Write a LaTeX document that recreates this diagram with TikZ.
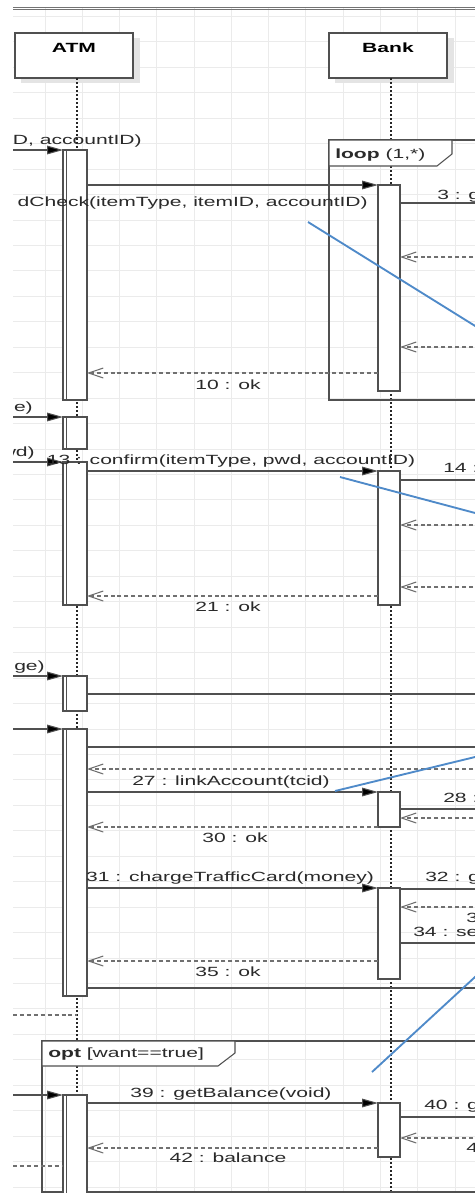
\documentclass[tikz,border=0pt]{standalone}
\usepackage{fontspec}
\setmainfont{Liberation Sans}[FakeStretch=1.58]
\usetikzlibrary{arrows.meta,calc}
\definecolor{gridc}{HTML}{EBEBEB}
\definecolor{linec}{HTML}{505050}
\definecolor{dashc}{HTML}{707070}
\definecolor{txtc}{HTML}{2A2A2A}
\definecolor{bluel}{HTML}{4F8AC9}
\definecolor{shadc}{HTML}{E4E4E4}
\newcommand\actA[3]{\node[act, minimum width=18pt, minimum height={(#3-#2)*0.75pt}, anchor=north west] (#1) at (63,#2) {};
  \draw[actline] ([xshift=2.4pt]#1.north west) -- ([xshift=2.4pt]#1.south west);}
\newcommand\actB[3]{\node[act, minimum width=16.5pt, minimum height={(#3-#2)*0.75pt}, anchor=north west] (#1) at (378,#2) {};}
\begin{document}
\begin{tikzpicture}[x=0.75pt,y=-0.75pt,
  gridline/.style={draw=gridc, line width=0.7pt},
  msg/.style={draw=linec, line width=0.8pt, -{Triangle[length=12pt,width=6.5pt,fill=black]}},
  ret/.style={draw=dashc, line width=0.8pt, dash pattern=on 3pt off 2.2pt, -{Straight Barb[length=11pt,width=7.5pt]}},
  retplain/.style={draw=dashc, line width=0.8pt, dash pattern=on 3pt off 2.2pt},
  plain/.style={draw=linec, line width=0.8pt},
  life/.style={draw=black!85, line width=1.3pt, dash pattern=on 1.2pt off 1.8pt},
  act/.style={draw=linec, fill=white, line width=0.8pt, inner sep=0pt, outer sep=0pt},
  actline/.style={draw=linec, line width=0.7pt},
  head/.style={draw=linec, fill=white, line width=0.8pt, inner sep=0pt, outer sep=0pt, minimum width=88.5pt, minimum height=33.75pt},
  frame/.style={draw=linec, line width=0.8pt},
  lbl/.style={text=txtc, inner sep=0pt, font=\fontsize{10}{12}\selectfont, anchor=base},
  lblw/.style={lbl, anchor=base west},
  lble/.style={lbl, anchor=base east},
  headtxt/.style={lbl, font=\fontsize{10}{12}\selectfont\bfseries, text=black},
  blue/.style={draw=bluel, line width=1.4pt}]
\useasboundingbox (0,0) rectangle (475,1193);
\fill[white] (0,0) rectangle (475,1193);
\begin{scope}
\clip (13,0) rectangle (475,1193);
% grid
\foreach \k in {0,...,11} \draw[gridline] ({45+37.27*\k},0) -- ({45+37.27*\k},1193);
\foreach \k in {0,...,46} \draw[gridline] (13,{16.4+25.45*\k}) -- (475,{16.4+25.45*\k});
\fill[white] (13,0) rectangle (475,7);
% top border
\draw[draw=black!55, line width=0.6pt] (13,7.2) -- (475,7.2);
\draw[draw=black!55, line width=0.6pt] (13,9.6) -- (475,9.6);
% headers
\fill[shadc] (21,38) rectangle (140,83);
\fill[shadc] (335,38) rectangle (454,83);
\node[head] (atm) at (74,55.5) {};
\node[head] (bank) at (388,55.5) {};
\node[headtxt] (atmt) at (74,52.5) {ATM};
\node[headtxt] (bankt) at (388,52.5) {Bank};
% lifelines
\coordinate (atmEnd) at (77,1193);
\coordinate (bankEnd) at (390.7,1193);
\draw[life] (atm.south -| atmEnd) -- (atmEnd);
\draw[life] (bank.south -| bankEnd) -- (bankEnd);
% loop frame
\draw[frame] (480,140) -- (329,140) -- (329,400) -- (480,400);
\filldraw[frame, fill=white] (329,140) -- (452,140) -- (452,154) -- (437,166) -- (329,166) -- cycle;
\node[lblw] (loopt) at (335,158.5) {\textbf{loop} (1,*)};
% opt frame
\draw[frame] (480,1041) -- (42,1041) -- (42,1192) -- (480,1192);
\filldraw[frame, fill=white] (42,1041) -- (235,1041) -- (235,1053) -- (218,1066) -- (42,1066) -- cycle;
\node[lblw] (optt) at (48,1057.5) {\textbf{opt} [want==true]};
% activation boxes
\actA{A1}{150}{400}
\actA{A2}{417}{449}
\actA{A3}{462}{605}
\actA{A4}{676}{711}
\actA{A5}{729}{996}
\actA{A6}{1095}{1200}
\actB{B1}{185}{391}
\actB{B2}{471}{605}
\actB{B3}{792}{827}
\actB{B4}{888}{979}
\actB{B5}{1103}{1157}
% incoming from left
\coordinate (L1) at (13,150);
\coordinate (L2) at (13,417);
\coordinate (L3) at (13,462);
\coordinate (L4) at (13,676);
\coordinate (L5) at (13,729);
\coordinate (L6) at (13,1095);
\draw[msg] (L1) -- (A1.north west);
\draw[msg] (L2) -- (A2.north west);
\draw[msg] (L3) -- (A3.north west);
\draw[msg] (L4) -- (A4.north west);
\draw[msg] (L5) -- (A5.north west);
\draw[msg] (L6) -- (A6.north west);
\node[lble] (t1) at (142,144.5) {D, accountID)};
\node[lble] (t11) at (33,411.5) {e)};
\node[lble] (t12) at (35,456.5) {wd)};
\node[lble] (t23) at (45,670.5) {nge)};
% ATM -> Bank
\draw[msg] (A1.east |- B1.north) -- (B1.north west);
\draw[msg] (A3.east |- B2.north) -- (B2.north west);
\draw[msg] (A5.east |- B3.north) -- (B3.north west);
\draw[msg] (A5.east |- B4.north) -- (B4.north west);
\draw[msg] (A6.east |- B5.north) -- (B5.north west);
\node[lble] (t2) at (368,206.5) {dCheck(itemType, itemID, accountID)};
\node[lbl] (t13) at (231,464.5) {13 : confirm(itemType, pwd, accountID)};
\node[lbl] (t27) at (231,785.5) {27 : linkAccount(tcid)};
\node[lbl] (t31) at (230,881.5) {31 : chargeTrafficCard(money)};
\node[lbl] (t39) at (231,1097.5) {39 : getBalance(void)};
% Bank -> ATM returns
\draw[ret] ($(B1.south west)+(0,-18)$) coordinate (r10) -- (r10 -| A1.east);
\draw[ret] ($(B2.south west)+(0,-9)$) coordinate (r21) -- (r21 -| A3.east);
\draw[ret] (B3.south west) coordinate (r30) -- (r30 -| A5.east);
\draw[ret] ($(B4.south west)+(0,-18)$) coordinate (r35) -- (r35 -| A5.east);
\draw[ret] ($(B5.south west)+(0,-9)$) coordinate (r42) -- (r42 -| A6.east);
\node[lbl] (t10) at (228,389.5) {10 : ok};
\node[lbl] (t21) at (228,611.5) {21 : ok};
\node[lbl] (t30) at (235,842.5) {30 : ok};
\node[lbl] (t35) at (228,976.5) {35 : ok};
\node[lbl] (t42) at (228,1162.5) {42 : balance};
% Bank -> right
\coordinate (S1) at (480,203);
\coordinate (S2) at (480,480);
\coordinate (S3) at (480,809);
\coordinate (S4) at (480,889);
\coordinate (S5) at (480,943);
\coordinate (S6) at (480,1117);
\draw[plain] (B1.east |- S1) -- (S1);
\draw[plain] (B2.east |- S2) -- (S2);
\draw[plain] (B3.east |- S3) -- (S3);
\draw[plain] (B4.east |- S4) -- (S4);
\draw[plain] (B4.east |- S5) -- (S5);
\draw[plain] (B5.east |- S6) -- (S6);
\node[lblw] (t3) at (437,199.5) {3 : g};
\node[lblw] (t14) at (443,472.5) {14 :};
\node[lblw] (t28) at (443,802.5) {28 :};
\node[lblw] (t32) at (425,881.5) {32 : g};
\node[lblw] (t33) at (466,922.5) {3};
\node[lblw] (t34) at (413,936.5) {34 : se};
\node[lblw] (t40) at (424,1109.5) {40 : g};
\node[lblw] (t41) at (466,1152.5) {4};
% right -> Bank returns
\coordinate (R1) at (480,257);
\coordinate (R2) at (480,347);
\coordinate (R3) at (480,525);
\coordinate (R4) at (480,587);
\coordinate (R5) at (480,818);
\coordinate (R6) at (480,907);
\coordinate (R7) at (480,1138);
\draw[ret] (R1) -- (R1 -| B1.east);
\draw[ret] (R2) -- (R2 -| B1.east);
\draw[ret] (R3) -- (R3 -| B2.east);
\draw[ret] (R4) -- (R4 -| B2.east);
\draw[ret] (R5) -- (R5 -| B3.east);
\draw[ret] (R6) -- (R6 -| B4.east);
\draw[ret] (R7) -- (R7 -| B5.east);
% ATM -> right
\coordinate (T1) at (480,694);
\coordinate (T2) at (480,747);
\coordinate (T3) at (480,988);
\coordinate (T4) at (480,769);
\draw[plain] (A4.east |- T1) -- (T1);
\draw[plain] (A5.east |- T2) -- (T2);
\draw[plain] (A5.east |- T3) -- (T3);
\draw[ret] (T4) -- (T4 -| A5.east);
% left dashed
\coordinate (D1) at (13,1015);
\coordinate (D2) at (13,1166);
\draw[retplain] (D1) -- (D1 -| atmEnd);
\draw[retplain] (D2) -- (D2 -| A6.west);
% blue annotation lines
\coordinate (b1s) at (308,222); \coordinate (b1e) at (480,329);
\coordinate (b2s) at (340,477); \coordinate (b2e) at (480,514.3);
\coordinate (b3s) at (335,791); \coordinate (b3e) at (480,755.8);
\coordinate (b4s) at (372,1072); \coordinate (b4e) at (480,972.4);
\draw[blue] (b1s) -- (b1e);
\draw[blue] (b2s) -- (b2e);
\draw[blue] (b3s) -- (b3e);
\draw[blue] (b4s) -- (b4e);
\end{scope}
\end{tikzpicture}
\end{document}
